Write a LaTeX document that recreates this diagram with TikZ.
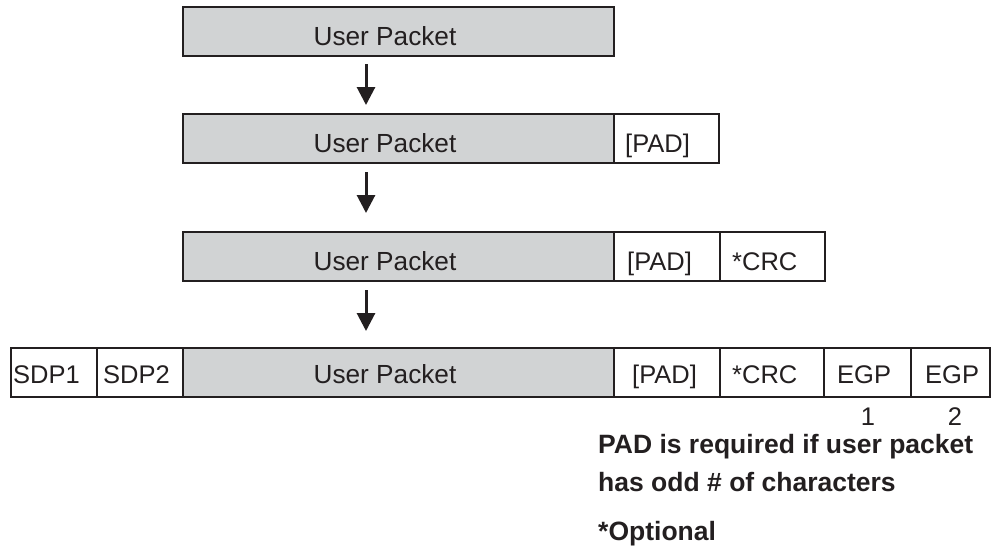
\documentclass[tikz,border=0pt]{standalone}
\usepackage{fontspec}
\setmainfont{Liberation Sans}
\usetikzlibrary{arrows.meta}
\definecolor{ink}{RGB}{35,31,32}
\definecolor{packetfill}{RGB}{209,211,212}
\begin{document}
\begin{tikzpicture}[x=1pt,y=-1pt,
  cellbox/.style={draw=ink, line width=1.8pt, minimum height=49pt, inner sep=0pt, outer sep=0pt, anchor=north west},
  pkt/.style={cellbox, fill=packetfill},
  fld/.style={cellbox, fill=white},
  lbl/.style={text=ink, font=\fontsize{25.5}{30}\selectfont, inner sep=0pt, anchor=base west},
  wide/.style={lbl, font=\fontsize{26.2}{30}\selectfont, anchor=base},
  note/.style={lbl, font=\fontsize{26.5}{30}\selectfont\bfseries},
  flow/.style={draw=ink, line width=3pt, -{Triangle[length=18pt,width=18pt]}}
]
\useasboundingbox (0,0) rectangle (992,550);

% stage 1: bare user packet
\node[pkt, minimum width=431pt] (r1u) at (183,7) {};
\node[wide] (t1u) at (385,45) {User Packet};

% stage 2: padded
\node[pkt, minimum width=431pt] (r2u) at (183,114) {};
\node[fld, minimum width=105pt] (r2p) at (614,114) {};
\node[wide] (t2u) at (385,152) {User Packet};
\node[lbl] (t2p) at (625,152) {[PAD]};

% stage 3: padded with CRC
\node[pkt, minimum width=431pt] (r3u) at (183,232) {};
\node[fld, minimum width=106pt] (r3p) at (614,232) {};
\node[fld, minimum width=105pt] (r3c) at (720,232) {};
\node[wide] (t3u) at (385,270) {User Packet};
\node[lbl] (t3p) at (627,270) {[PAD]};
\node[lbl] (t3c) at (732,270) {*CRC};

% stage 4: full frame
\node[fld, minimum width=86pt] (r4s1) at (11,348) {};
\node[fld, minimum width=86pt] (r4s2) at (97,348) {};
\node[pkt, minimum width=431pt] (r4u) at (183,348) {};
\node[fld, minimum width=106pt] (r4p) at (614,348) {};
\node[fld, minimum width=104pt] (r4c) at (720,348) {};
\node[fld, minimum width=87pt] (r4e1) at (824,348) {};
\node[fld, minimum width=79pt] (r4e2) at (911,348) {};
\node[lbl] (t4s1) at (13,383) {SDP1};
\node[lbl] (t4s2) at (103,383) {SDP2};
\node[wide] (t4u) at (385,383) {User Packet};
\node[lbl] (t4p) at (632,383) {[PAD]};
\node[lbl] (t4c) at (732,383) {*CRC};
\node[lbl] (t4e1) at (837,383) {EGP};
\node[lbl] (t4e2) at (925,383) {EGP};
\node[lbl, anchor=base] (n1) at (868,425) {1};
\node[lbl, anchor=base] (n2) at (955,425) {2};

% stage transitions
\draw[flow] ([xshift=183pt,yshift=-8pt]r1u.south west) -- ([xshift=183pt,yshift=9pt]r2u.north west);
\draw[flow] ([xshift=183pt,yshift=-9pt]r2u.south west) -- ([xshift=183pt,yshift=19pt]r3u.north west);
\draw[flow] ([xshift=183pt,yshift=-9pt]r3u.south west) -- ([xshift=183pt,yshift=17pt]r4u.north west);

% notes
\node[note] (m1) at (598,453) {PAD is required if user packet};
\node[note] (m2) at (598,491) {has odd \# of characters};
\node[note] (m3) at (598,540) {*Optional};
\end{tikzpicture}
\end{document}
